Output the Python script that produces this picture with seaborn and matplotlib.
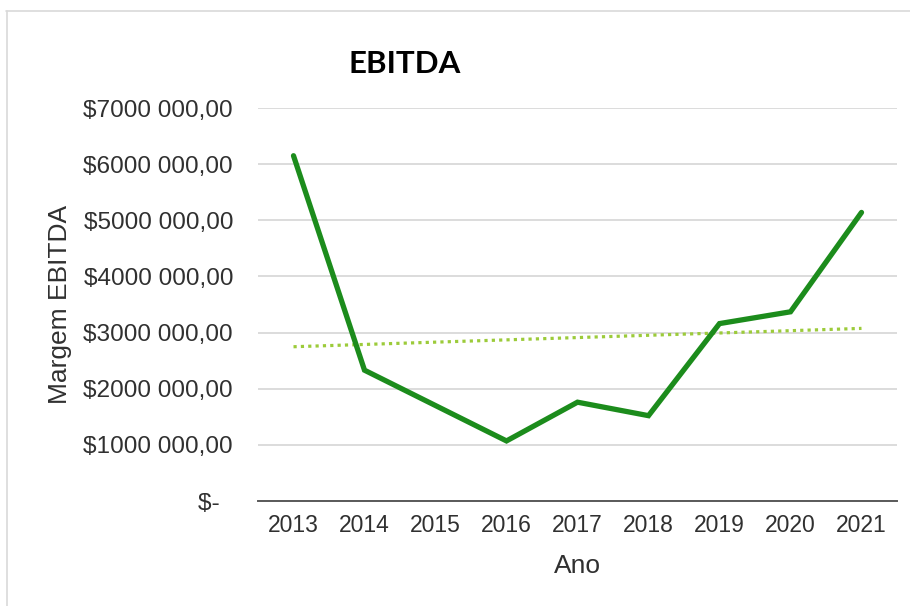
import numpy as np
import pandas as pd
import matplotlib
matplotlib.use("Agg")
import matplotlib.pyplot as plt
from matplotlib.lines import Line2D
from matplotlib.ticker import FixedLocator, FuncFormatter
import seaborn as sns

# EBITDA per year (in dollars)
anos = ["2013", "2014", "2015", "2016", "2017", "2018", "2019", "2020", "2021"]
ebitda = [6150000, 2330000, 1700000, 1070000, 1760000, 1520000, 3160000, 3370000, 5140000]
y_ticks = [0, 1000000, 2000000, 3000000, 4000000, 5000000, 6000000, 7000000]

df = pd.DataFrame({"Ano": anos, "EBITDA": ebitda})

# linear trend over the series
idx = np.arange(len(anos))
coef = np.polyfit(idx, df["EBITDA"].to_numpy(dtype=float), 1)
df["Tendencia"] = np.polyval(coef, idx)

sns.set_theme(style="white")
plt.rcParams["font.family"] = ["Liberation Sans", "DejaVu Sans"]

fig = plt.figure(figsize=(9.10, 6.06), dpi=100)
ax = fig.add_axes([258 / 910, 1 - 501 / 606, 639 / 910, 393 / 606])

sns.lineplot(data=df, x="Ano", y="EBITDA", ax=ax, color="#1C8C1C",
             linewidth=3.8, solid_joinstyle="miter", zorder=3)
sns.lineplot(data=df, x="Ano", y="Tendencia", ax=ax, color="#9CCB3A",
             linewidth=2.3, linestyle=(0, (1, 1.3)), dash_capstyle="butt", zorder=2)

ax.set_xlim(-0.5, len(anos) - 0.5)
ax.set_ylim(0, 7000000)
ax.yaxis.set_major_locator(FixedLocator(y_ticks))


def moeda(v, pos):
    if v == 0:
        return "$-  "
    milhoes = int(round(v / 1000000))
    return f"${milhoes}000 000,00"


ax.yaxis.set_major_formatter(FuncFormatter(moeda))
ax.grid(axis="y", color="#D9D9D9", linewidth=1.3)
ax.grid(axis="x", visible=False)
ax.set_axisbelow(True)
for side in ["left", "right", "top"]:
    ax.spines[side].set_visible(False)
ax.spines["bottom"].set_color("#595959")
ax.spines["bottom"].set_linewidth(1.4)
ax.spines["bottom"].set_zorder(4)

ax.tick_params(axis="y", length=0, pad=18, labelsize=17.6, labelcolor="#303030")
ax.tick_params(axis="x", length=0, pad=9, labelsize=16.5, labelcolor="#303030")

ax.set_ylabel("Margem EBITDA", fontsize=19, color="#303030")
ax.set_xlabel("Ano", fontsize=19, color="#303030")
ax.yaxis.set_label_coords(-0.291, 0.5)
ax.xaxis.set_label_coords(0.5, -0.135)

fig.text(405 / 910, 1 - 73.3 / 606, "EBITDA", ha="center", va="baseline",
         fontsize=22.5, fontweight="bold", family=["Lato", "DejaVu Sans"], color="#000000")

# chart area frame
fig.add_artist(Line2D([6 / 910, 1], [1 - 11 / 606, 1 - 11 / 606], transform=fig.transFigure,
                      color="#D9D9D9", linewidth=1.2))
fig.add_artist(Line2D([7 / 910, 7 / 910], [0, 1 - 11 / 606], transform=fig.transFigure,
                      color="#D9D9D9", linewidth=1.2))

fig.savefig("out.png", dpi=100)
